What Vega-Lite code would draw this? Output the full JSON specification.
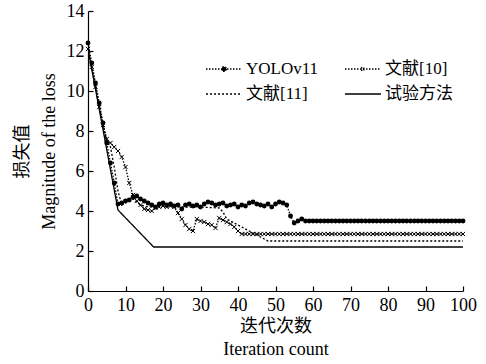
{
  "$schema": "https://vega.github.io/schema/vega-lite/v6.json",
  "autosize": {"type": "none"},
  "width": 375,
  "height": 280,
  "padding": {"left": 88, "top": 11, "right": 23, "bottom": 73},
  "background": "white",
  "config": {
    "font": "Liberation Serif",
    "view": {"stroke": null},
    "axis": {
      "domainColor": "black",
      "tickColor": "black",
      "labelColor": "black",
      "titleColor": "black",
      "grid": false,
      "labelFont": "Liberation Serif",
      "titleFont": "Liberation Serif, Noto Sans CJK SC",
      "labelFontSize": 18,
      "titleFontSize": 18,
      "titleFontWeight": "normal",
      "tickSize": -5,
      "domainWidth": 1.2,
      "tickWidth": 1.2,
      "labelOverlap": false
    },
    "legend": {
      "labelFont": "Liberation Serif, Noto Sans CJK SC",
      "labelFontSize": 17,
      "labelColor": "black"
    }
  },
  "data": {
    "values": [
      {"s": "YOLOv11", "x": 0, "y": 12.4}, {"s": "YOLOv11", "x": 1, "y": 11.4}, {"s": "YOLOv11", "x": 2, "y": 10.4}, {"s": "YOLOv11", "x": 3, "y": 9.4}, {"s": "YOLOv11", "x": 4, "y": 8.4}, {"s": "YOLOv11", "x": 5, "y": 7.4}, {"s": "YOLOv11", "x": 6, "y": 6.4}, {"s": "YOLOv11", "x": 7, "y": 5.4}, {"s": "YOLOv11", "x": 8, "y": 4.35}, {"s": "YOLOv11", "x": 9, "y": 4.4},
      {"s": "YOLOv11", "x": 10, "y": 4.5}, {"s": "YOLOv11", "x": 11, "y": 4.55}, {"s": "YOLOv11", "x": 12, "y": 4.7}, {"s": "YOLOv11", "x": 13, "y": 4.75}, {"s": "YOLOv11", "x": 14, "y": 4.6}, {"s": "YOLOv11", "x": 15, "y": 4.5}, {"s": "YOLOv11", "x": 16, "y": 4.4}, {"s": "YOLOv11", "x": 17, "y": 4.3}, {"s": "YOLOv11", "x": 18, "y": 4.2}, {"s": "YOLOv11", "x": 19, "y": 4.35},
      {"s": "YOLOv11", "x": 20, "y": 4.4}, {"s": "YOLOv11", "x": 21, "y": 4.3}, {"s": "YOLOv11", "x": 22, "y": 4.35}, {"s": "YOLOv11", "x": 23, "y": 4.25}, {"s": "YOLOv11", "x": 24, "y": 4.3}, {"s": "YOLOv11", "x": 25, "y": 4.1}, {"s": "YOLOv11", "x": 26, "y": 4.3}, {"s": "YOLOv11", "x": 27, "y": 4.35}, {"s": "YOLOv11", "x": 28, "y": 4.25}, {"s": "YOLOv11", "x": 29, "y": 4.3},
      {"s": "YOLOv11", "x": 30, "y": 4.2}, {"s": "YOLOv11", "x": 31, "y": 4.35}, {"s": "YOLOv11", "x": 32, "y": 4.45}, {"s": "YOLOv11", "x": 33, "y": 4.4}, {"s": "YOLOv11", "x": 34, "y": 4.3}, {"s": "YOLOv11", "x": 35, "y": 4.35}, {"s": "YOLOv11", "x": 36, "y": 4.4}, {"s": "YOLOv11", "x": 37, "y": 4.25}, {"s": "YOLOv11", "x": 38, "y": 4.3}, {"s": "YOLOv11", "x": 39, "y": 4.35},
      {"s": "YOLOv11", "x": 40, "y": 4.2}, {"s": "YOLOv11", "x": 41, "y": 4.3}, {"s": "YOLOv11", "x": 42, "y": 4.25}, {"s": "YOLOv11", "x": 43, "y": 4.4}, {"s": "YOLOv11", "x": 44, "y": 4.45}, {"s": "YOLOv11", "x": 45, "y": 4.35}, {"s": "YOLOv11", "x": 46, "y": 4.3}, {"s": "YOLOv11", "x": 47, "y": 4.25}, {"s": "YOLOv11", "x": 48, "y": 4.35}, {"s": "YOLOv11", "x": 49, "y": 4.2},
      {"s": "YOLOv11", "x": 50, "y": 4.35}, {"s": "YOLOv11", "x": 51, "y": 4.45}, {"s": "YOLOv11", "x": 52, "y": 4.4}, {"s": "YOLOv11", "x": 53, "y": 4.3}, {"s": "YOLOv11", "x": 54, "y": 3.75}, {"s": "YOLOv11", "x": 55, "y": 3.4}, {"s": "YOLOv11", "x": 56, "y": 3.5}, {"s": "YOLOv11", "x": 57, "y": 3.6}, {"s": "YOLOv11", "x": 58, "y": 3.5}, {"s": "YOLOv11", "x": 59, "y": 3.5},
      {"s": "YOLOv11", "x": 60, "y": 3.5}, {"s": "YOLOv11", "x": 61, "y": 3.5}, {"s": "YOLOv11", "x": 62, "y": 3.5}, {"s": "YOLOv11", "x": 63, "y": 3.5}, {"s": "YOLOv11", "x": 64, "y": 3.5}, {"s": "YOLOv11", "x": 65, "y": 3.5}, {"s": "YOLOv11", "x": 66, "y": 3.5}, {"s": "YOLOv11", "x": 67, "y": 3.5}, {"s": "YOLOv11", "x": 68, "y": 3.5}, {"s": "YOLOv11", "x": 69, "y": 3.5},
      {"s": "YOLOv11", "x": 70, "y": 3.5}, {"s": "YOLOv11", "x": 71, "y": 3.5}, {"s": "YOLOv11", "x": 72, "y": 3.5}, {"s": "YOLOv11", "x": 73, "y": 3.5}, {"s": "YOLOv11", "x": 74, "y": 3.5}, {"s": "YOLOv11", "x": 75, "y": 3.5}, {"s": "YOLOv11", "x": 76, "y": 3.5}, {"s": "YOLOv11", "x": 77, "y": 3.5}, {"s": "YOLOv11", "x": 78, "y": 3.5}, {"s": "YOLOv11", "x": 79, "y": 3.5},
      {"s": "YOLOv11", "x": 80, "y": 3.5}, {"s": "YOLOv11", "x": 81, "y": 3.5}, {"s": "YOLOv11", "x": 82, "y": 3.5}, {"s": "YOLOv11", "x": 83, "y": 3.5}, {"s": "YOLOv11", "x": 84, "y": 3.5}, {"s": "YOLOv11", "x": 85, "y": 3.5}, {"s": "YOLOv11", "x": 86, "y": 3.5}, {"s": "YOLOv11", "x": 87, "y": 3.5}, {"s": "YOLOv11", "x": 88, "y": 3.5}, {"s": "YOLOv11", "x": 89, "y": 3.5},
      {"s": "YOLOv11", "x": 90, "y": 3.5}, {"s": "YOLOv11", "x": 91, "y": 3.5}, {"s": "YOLOv11", "x": 92, "y": 3.5}, {"s": "YOLOv11", "x": 93, "y": 3.5}, {"s": "YOLOv11", "x": 94, "y": 3.5}, {"s": "YOLOv11", "x": 95, "y": 3.5}, {"s": "YOLOv11", "x": 96, "y": 3.5}, {"s": "YOLOv11", "x": 97, "y": 3.5}, {"s": "YOLOv11", "x": 98, "y": 3.5}, {"s": "YOLOv11", "x": 99, "y": 3.5}, {"s": "YOLOv11", "x": 100, "y": 3.5},

      {"s": "文献[10]", "x": 0, "y": 12.1}, {"s": "文献[10]", "x": 1, "y": 11.2}, {"s": "文献[10]", "x": 2, "y": 10.2}, {"s": "文献[10]", "x": 3, "y": 9.2}, {"s": "文献[10]", "x": 4, "y": 8.3}, {"s": "文献[10]", "x": 5, "y": 7.6}, {"s": "文献[10]", "x": 6, "y": 7.4}, {"s": "文献[10]", "x": 7, "y": 7.2}, {"s": "文献[10]", "x": 8, "y": 7.0}, {"s": "文献[10]", "x": 9, "y": 6.7},
      {"s": "文献[10]", "x": 10, "y": 6.2}, {"s": "文献[10]", "x": 11, "y": 5.4}, {"s": "文献[10]", "x": 12, "y": 4.8}, {"s": "文献[10]", "x": 13, "y": 4.5}, {"s": "文献[10]", "x": 14, "y": 4.3}, {"s": "文献[10]", "x": 15, "y": 4.1}, {"s": "文献[10]", "x": 16, "y": 4.05}, {"s": "文献[10]", "x": 17, "y": 4.0}, {"s": "文献[10]", "x": 18, "y": 4.15}, {"s": "文献[10]", "x": 19, "y": 4.2},
      {"s": "文献[10]", "x": 20, "y": 4.25}, {"s": "文献[10]", "x": 21, "y": 4.2}, {"s": "文献[10]", "x": 22, "y": 4.25}, {"s": "文献[10]", "x": 23, "y": 4.2}, {"s": "文献[10]", "x": 24, "y": 3.9}, {"s": "文献[10]", "x": 25, "y": 3.6}, {"s": "文献[10]", "x": 26, "y": 3.3}, {"s": "文献[10]", "x": 27, "y": 3.1}, {"s": "文献[10]", "x": 28, "y": 3.0}, {"s": "文献[10]", "x": 29, "y": 3.6},
      {"s": "文献[10]", "x": 30, "y": 3.5}, {"s": "文献[10]", "x": 31, "y": 3.45}, {"s": "文献[10]", "x": 32, "y": 3.35}, {"s": "文献[10]", "x": 33, "y": 3.3}, {"s": "文献[10]", "x": 34, "y": 3.15}, {"s": "文献[10]", "x": 35, "y": 3.65}, {"s": "文献[10]", "x": 36, "y": 3.55}, {"s": "文献[10]", "x": 37, "y": 3.45}, {"s": "文献[10]", "x": 38, "y": 3.35}, {"s": "文献[10]", "x": 39, "y": 3.2},
      {"s": "文献[10]", "x": 40, "y": 3.0}, {"s": "文献[10]", "x": 41, "y": 2.85}, {"s": "文献[10]", "x": 42, "y": 2.85}, {"s": "文献[10]", "x": 43, "y": 2.85}, {"s": "文献[10]", "x": 44, "y": 2.85}, {"s": "文献[10]", "x": 45, "y": 2.85}, {"s": "文献[10]", "x": 46, "y": 2.85}, {"s": "文献[10]", "x": 47, "y": 2.85}, {"s": "文献[10]", "x": 48, "y": 2.85}, {"s": "文献[10]", "x": 49, "y": 2.85},
      {"s": "文献[10]", "x": 50, "y": 2.85}, {"s": "文献[10]", "x": 51, "y": 2.85}, {"s": "文献[10]", "x": 52, "y": 2.85}, {"s": "文献[10]", "x": 53, "y": 2.85}, {"s": "文献[10]", "x": 54, "y": 2.85}, {"s": "文献[10]", "x": 55, "y": 2.85}, {"s": "文献[10]", "x": 56, "y": 2.85}, {"s": "文献[10]", "x": 57, "y": 2.85}, {"s": "文献[10]", "x": 58, "y": 2.85}, {"s": "文献[10]", "x": 59, "y": 2.85},
      {"s": "文献[10]", "x": 60, "y": 2.85}, {"s": "文献[10]", "x": 61, "y": 2.85}, {"s": "文献[10]", "x": 62, "y": 2.85}, {"s": "文献[10]", "x": 63, "y": 2.85}, {"s": "文献[10]", "x": 64, "y": 2.85}, {"s": "文献[10]", "x": 65, "y": 2.85}, {"s": "文献[10]", "x": 66, "y": 2.85}, {"s": "文献[10]", "x": 67, "y": 2.85}, {"s": "文献[10]", "x": 68, "y": 2.85}, {"s": "文献[10]", "x": 69, "y": 2.85},
      {"s": "文献[10]", "x": 70, "y": 2.85}, {"s": "文献[10]", "x": 71, "y": 2.85}, {"s": "文献[10]", "x": 72, "y": 2.85}, {"s": "文献[10]", "x": 73, "y": 2.85}, {"s": "文献[10]", "x": 74, "y": 2.85}, {"s": "文献[10]", "x": 75, "y": 2.85}, {"s": "文献[10]", "x": 76, "y": 2.85}, {"s": "文献[10]", "x": 77, "y": 2.85}, {"s": "文献[10]", "x": 78, "y": 2.85}, {"s": "文献[10]", "x": 79, "y": 2.85},
      {"s": "文献[10]", "x": 80, "y": 2.85}, {"s": "文献[10]", "x": 81, "y": 2.85}, {"s": "文献[10]", "x": 82, "y": 2.85}, {"s": "文献[10]", "x": 83, "y": 2.85}, {"s": "文献[10]", "x": 84, "y": 2.85}, {"s": "文献[10]", "x": 85, "y": 2.85}, {"s": "文献[10]", "x": 86, "y": 2.85}, {"s": "文献[10]", "x": 87, "y": 2.85}, {"s": "文献[10]", "x": 88, "y": 2.85}, {"s": "文献[10]", "x": 89, "y": 2.85},
      {"s": "文献[10]", "x": 90, "y": 2.85}, {"s": "文献[10]", "x": 91, "y": 2.85}, {"s": "文献[10]", "x": 92, "y": 2.85}, {"s": "文献[10]", "x": 93, "y": 2.85}, {"s": "文献[10]", "x": 94, "y": 2.85}, {"s": "文献[10]", "x": 95, "y": 2.85}, {"s": "文献[10]", "x": 96, "y": 2.85}, {"s": "文献[10]", "x": 97, "y": 2.85}, {"s": "文献[10]", "x": 98, "y": 2.85}, {"s": "文献[10]", "x": 99, "y": 2.85}, {"s": "文献[10]", "x": 100, "y": 2.85},

      {"s": "文献[11]", "x": 0, "y": 12.1}, {"s": "文献[11]", "x": 2, "y": 10.2}, {"s": "文献[11]", "x": 4, "y": 8.3}, {"s": "文献[11]", "x": 5, "y": 7.5}, {"s": "文献[11]", "x": 6, "y": 7.2}, {"s": "文献[11]", "x": 7, "y": 6.2}, {"s": "文献[11]", "x": 8, "y": 5.0}, {"s": "文献[11]", "x": 9, "y": 4.3}, {"s": "文献[11]", "x": 10, "y": 4.4}, {"s": "文献[11]", "x": 12, "y": 4.6},
      {"s": "文献[11]", "x": 14, "y": 4.3}, {"s": "文献[11]", "x": 16, "y": 4.2}, {"s": "文献[11]", "x": 20, "y": 4.25}, {"s": "文献[11]", "x": 25, "y": 4.2}, {"s": "文献[11]", "x": 30, "y": 4.2}, {"s": "文献[11]", "x": 35, "y": 4.15}, {"s": "文献[11]", "x": 36, "y": 3.95}, {"s": "文献[11]", "x": 37, "y": 3.6}, {"s": "文献[11]", "x": 40, "y": 3.3}, {"s": "文献[11]", "x": 43, "y": 3.0},
      {"s": "文献[11]", "x": 46, "y": 2.7}, {"s": "文献[11]", "x": 48, "y": 2.5}, {"s": "文献[11]", "x": 100, "y": 2.5},

      {"s": "试验方法", "x": 0, "y": 12.1}, {"s": "试验方法", "x": 8, "y": 4.05}, {"s": "试验方法", "x": 17.5, "y": 2.2}, {"s": "试验方法", "x": 100, "y": 2.2}
    ]
  },
  "encoding": {
    "x": {"field": "x", "type": "quantitative", "scale": {"domain": [0, 100], "nice": false},
      "axis": {"values": [0, 10, 20, 30, 40, 50, 60, 70, 80, 90, 100], "tickCount": 30, "format": "d", "labelOverlap": false, "title": ["迭代次数", "Iteration count"], "titlePadding": 3, "titleLineHeight": 23, "labelPadding": 10, "labelFlush": false}},
    "y": {"field": "y", "type": "quantitative", "scale": {"domain": [0, 14], "nice": false},
      "axis": {"values": [0, 2, 4, 6, 8, 10, 12, 14], "tickCount": 30, "format": "d", "labelOverlap": false, "title": ["损失值", "Magnitude of the loss"], "titlePadding": 8, "titleLineHeight": 27, "labelPadding": 9, "labelFlush": false}}
  },
  "layer": [
    {
      "mark": {"type": "line", "color": "black", "clip": true},
      "encoding": {
        "strokeDash": {"field": "s", "type": "nominal",
          "scale": {"domain": ["YOLOv11", "文献[10]", "文献[11]", "试验方法"], "range": [[1.5, 1.5], [1.5, 1.5], [2, 2], [1, 0]]},
          "legend": {
            "title": null, "orient": "none", "legendX": 117, "legendY": 49, "direction": "horizontal", "columns": 2,
            "columnPadding": 25, "rowPadding": 7, "clipHeight": 18, "labelOffset": 3, "symbolType": "stroke", "symbolSize": 1300, "symbolStrokeWidth": 1.5, "symbolStrokeColor": "black",
            "encode": {"symbols": {"update": {
              "shape": {"signal": "datum.value === 'YOLOv11' ? 'M-1,0L1,0M0.13,0A0.13,0.13,0,1,1,-0.13,0A0.13,0.13,0,1,1,0.13,0' : datum.value === '文献[10]' ? 'M-1,0L1,0M-0.1,-0.1L0.1,0.1M-0.1,0.1L0.1,-0.1' : 'stroke'"},
              "fill": {"signal": "datum.value === 'YOLOv11' ? 'black' : 'transparent'"},
              "stroke": {"value": "black"},
              "strokeDash": {"scale": "strokeDash", "field": "value"},
              "strokeWidth": {"signal": "datum.value === '试验方法' ? 2 : 1.5"},
              "opacity": {"value": 1}
            }}}
          }},
        "strokeWidth": {"field": "s", "type": "nominal", "scale": {"domain": ["YOLOv11", "文献[10]", "文献[11]", "试验方法"], "range": [1.3, 1.3, 1.8, 2]}, "legend": null}
      }
    },
    {
      "transform": [{"filter": "datum.s === 'YOLOv11'"}],
      "mark": {"type": "point", "shape": "circle", "filled": true, "color": "black", "size": 24, "opacity": 1}
    },
    {
      "transform": [{"filter": "datum.s === '文献[10]'"}],
      "mark": {"type": "point", "shape": "M-1,-1L1,1M-1,1L1,-1", "filled": false, "color": "black", "size": 18, "strokeWidth": 1, "opacity": 1}
    }
  ]
}
